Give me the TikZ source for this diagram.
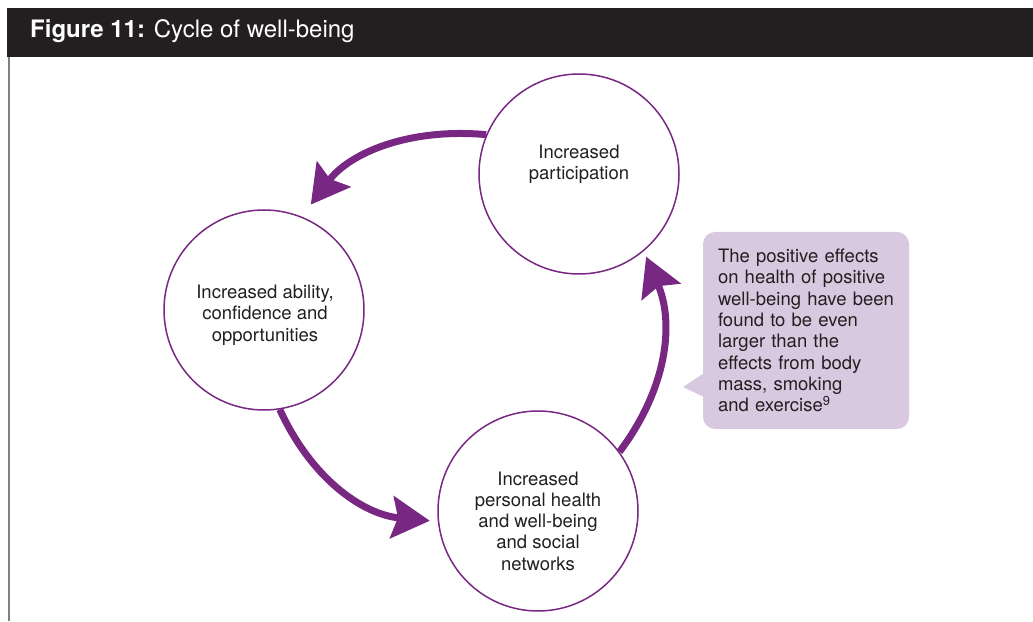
\documentclass[tikz,border=0pt]{standalone}
\usepackage{fontspec}
\setmainfont{TeX Gyre Heros}
\usetikzlibrary{arrows.meta}
\definecolor{wbpurple}{RGB}{120,40,130}
\definecolor{wblilac}{RGB}{217,201,224}
\definecolor{wbbar}{RGB}{35,31,32}
\tikzset{
	stage/.style={circle,draw=wbpurple,line width=1.5pt,minimum size=200pt,inner sep=0pt},
	stagetext/.style={align=center,text=wbbar,font=\fontsize{18.5}{21.3}\selectfont},
	cycarrow/.style={draw=wbpurple,line width=7pt,-{Stealth[length=38pt,width=42pt,inset=6pt]}}
}
\begin{document}
\begin{tikzpicture}[x=1pt,y=1pt]
	\useasboundingbox (0,0) rectangle (1033,621);
	\fill[wbbar] (7,564) rectangle (1033,613);
	\draw[gray,line width=1.5pt] (9,564) -- (9,0);
	\node[anchor=base west,inner sep=0pt,text=white,font=\fontsize{24}{27}\selectfont] (title) at (30,583) {\textbf{Figure 11:} Cycle of well-being};
	% the three stages
	\node[stage] (part) at (579,447) {};
	\node[stage] (abil) at (264,311) {};
	\node[stage] (pers) at (538,110) {};
	\node[stagetext] (parttxt) at (579,457) {Increased\\participation};
	\node[stagetext] (abiltxt) at (265,306) {Increased ability,\\confidence and\\opportunities};
	\node[stagetext] (perstxt) at (538,100) {Increased\\personal health\\and well-being\\and social\\networks};
	\draw[cycarrow,shorten >=15pt] (part.157) to[bend right=29] (abil.68);
	\draw[cycarrow,shorten >=8pt] (abil.279) to[bend right=30] (pers.186);
	\draw[cycarrow,shorten >=6pt] (pers.36) to[bend right=30] (part.310);
	% note
	\node[fill=wblilac,rounded corners=12pt,minimum width=206pt,minimum height=197pt,inner xsep=15pt,text width=176pt,align=left,text=wbbar,font=\fontsize{18.5}{21.3}\selectfont] (note) at (806,290.5) {The positive effects\\on health of positive\\well-being have been\\found to be even\\larger than the\\effects from body\\mass, smoking\\and exercise\textsuperscript{9}};
	\fill[wblilac] (704,248) -- (683,234) -- (704,224) -- cycle;
\end{tikzpicture}
\end{document}
